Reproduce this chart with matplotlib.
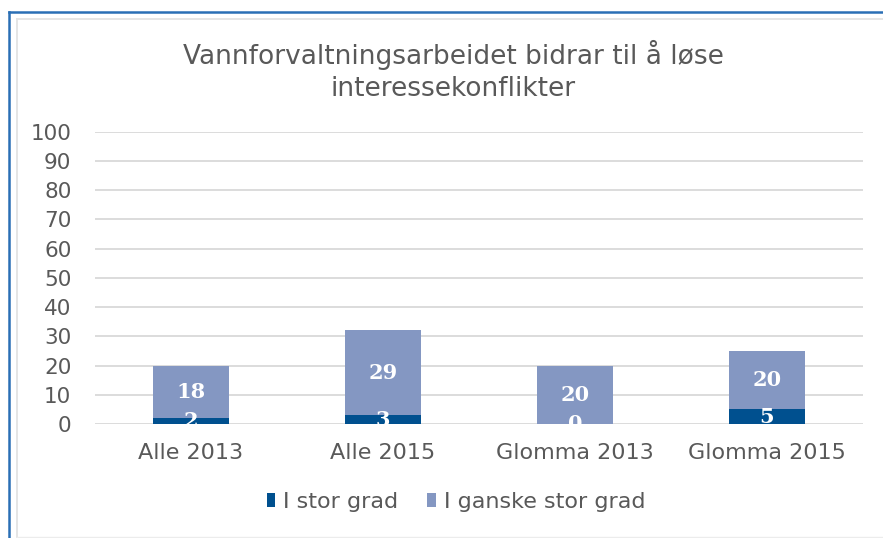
import matplotlib
matplotlib.use("Agg")
import matplotlib.pyplot as plt
from matplotlib.lines import Line2D

categories = ["Alle 2013", "Alle 2015", "Glomma 2013", "Glomma 2015"]
stor_grad = [2, 3, 0, 5]
ganske_stor_grad = [18, 29, 20, 20]
series_names = ["I stor grad", "I ganske stor grad"]
title = "Vannforvaltningsarbeidet bidrar til å løse\ninteressekonflikter"

DARK = "#00508f"
LIGHT = "#8497c2"
TEXT = "#595959"
GRID = "#d9d9d9"

W, H = 883, 538
fig = plt.figure(figsize=(W / 100, H / 100), dpi=100)
fig.patch.set_facecolor("white")

# axes placed in pixel terms of the reference
left, right, bottom, top = 95, 863, 424, 131.7
ax = fig.add_axes([left / W, 1 - bottom / H, (right - left) / W, (bottom - top) / H])

x = range(len(categories))
b1 = ax.bar(x, stor_grad, width=0.4, color=DARK, label=series_names[0], zorder=2)
b2 = ax.bar(x, ganske_stor_grad, width=0.4, bottom=stor_grad, color=LIGHT,
            label=series_names[1], zorder=2)

for cont in (b1, b2):
    ax.bar_label(cont, label_type="center", color="white", fontweight="bold",
                 family="DejaVu Serif", fontsize=15, zorder=4)

ax.set_ylim(0, 100)
ax.set_xlim(-0.5, len(categories) - 0.5)
ax.set_yticks(range(0, 101, 10))
ax.set_xticks(list(x))
ax.set_xticklabels(categories)
ax.yaxis.grid(True, color=GRID, lw=1.3)
ax.set_axisbelow(True)
for s in ax.spines.values():
    s.set_visible(False)
ax.tick_params(axis="y", length=0, pad=17, labelsize=15.5, labelcolor=TEXT)
ax.tick_params(axis="x", length=0, pad=14, labelsize=16, labelcolor=TEXT)

fig.text(453 / W, 1 - 71 / H, title, ha="center", va="center", fontsize=19,
         color=TEXT, linespacing=1.3)

leg = fig.legend(loc="center", bbox_to_anchor=(456 / W, 1 - 502 / H), ncol=2,
                 frameon=False, fontsize=16, handlelength=0.4, handleheight=0.55,
                 handletextpad=0.35, columnspacing=1.3)
for t in leg.get_texts():
    t.set_color(TEXT)

# chart frame (blue outer, gray inner)
fig.add_artist(Line2D([9 / W, 9 / W], [0, 1 - 12 / H], color="#2a6fb5", lw=1.8))
fig.add_artist(Line2D([9 / W, 1], [1 - 12 / H, 1 - 12 / H], color="#2a6fb5", lw=1.8))
fig.add_artist(Line2D([16.5 / W, 16.5 / W], [1 - 536.5 / H, 1 - 18.5 / H], color="#e3e3e3", lw=1.3))
fig.add_artist(Line2D([16.5 / W, 1], [1 - 18.5 / H, 1 - 18.5 / H], color="#e3e3e3", lw=1.3))
fig.add_artist(Line2D([16.5 / W, 1], [1 - 536.5 / H, 1 - 536.5 / H], color="#ececec", lw=1.0))

fig.savefig("out.png", dpi=100)
